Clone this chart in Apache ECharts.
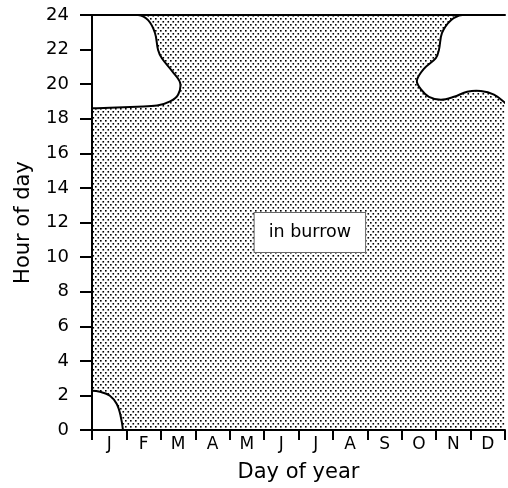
<!DOCTYPE html>
<html>
<head>
<meta charset="utf-8">
<script src="https://cdn.jsdelivr.net/npm/echarts@6/dist/echarts.min.js"></script>
<style>
  html, body { margin: 0; padding: 0; background: #fff; }
  #chart { width: 508px; height: 488px; }
</style>
</head>
<body>
<div id="chart"></div>
<script>
// axis ranges
const monthRange = [0, 12]
const hourRange = [0, 24]
const months = ['J', 'F', 'M', 'A', 'M', 'J', 'J', 'A', 'S', 'O', 'N', 'D']

// outlines of the "out of burrow" regions, [month, hour]
// points past the plot edges only keep the corners sharp (clipped)
const topLeftBlob = [
    [-2, 18.6], [0, 18.6], [0.52, 18.64], [1.31, 18.7], [1.89, 18.76], [2.27, 19.0],
    [2.5, 19.39], [2.56, 20.08], [2.35, 20.7], [2.03, 21.5], [1.92, 21.98],
    [1.83, 22.96], [1.63, 23.7], [1.34, 24], [0.5, 24], [-2, 24]
]
const topRightBlob = [
    [10.76, 24], [10.43, 23.7], [10.17, 22.96], [10.08, 21.98], [9.99, 21.5],
    [9.65, 20.9], [9.44, 20.2], [9.56, 19.7], [9.79, 19.27], [10.14, 19.1],
    [10.52, 19.27], [10.9, 19.56], [11.3, 19.6], [11.68, 19.39], [12, 18.92],
    [12.4, 18.3], [14, 18.3], [14, 24], [11.6, 24]
]
const bottomLeftBlob = [
    [-2, 2.27], [0, 2.27], [0.23, 2.21], [0.52, 1.98], [0.72, 1.5], [0.83, 0.83],
    [0.9, 0], [0.93, -1], [-2, -1]
]
const labelPos = [6.33, 11.42]

const FONT = 'DejaVu Sans'

// stipple tile
const tile = document.createElement('canvas')
tile.width = 5
tile.height = 6
const tctx = tile.getContext('2d')
tctx.fillStyle = '#000'
tctx.fillRect(0, 0, 1.6, 1.6)
tctx.fillRect(2.5, 3, 1.6, 1.6)
const stipple = { image: tile, repeat: 'repeat' }

const blobSeries = (points) => ({
    type: 'custom',
    xAxisIndex: 0,
    yAxisIndex: 0,
    clip: true,
    z: 3,
    silent: true,
    data: points,
    renderItem: (params, api) => {
        if (params.dataIndex !== 0) return
        return {
            type: 'polygon',
            shape: { points: points.map((p) => api.coord(p)), smooth: 0.35 },
            style: { fill: '#fff', stroke: '#000', lineWidth: 2 },
        }
    },
})

const chart = echarts.init(document.getElementById('chart'))
const option = {
    animation: false,
    grid: { left: 92, right: 3, top: 15, bottom: 57 },
    xAxis: [
        {
            type: 'value',
            min: monthRange[0],
            max: monthRange[1],
            interval: 1,
            z: 10,
            name: 'Day of year',
            nameLocation: 'middle',
            nameGap: 32,
            nameTextStyle: { fontFamily: FONT, fontSize: 21, color: '#000' },
            axisLine: { lineStyle: { color: '#000', width: 2 } },
            axisTick: { length: 10, lineStyle: { color: '#000', width: 2 } },
            axisLabel: { show: false },
            splitLine: { show: false },
        },
        {
            type: 'category',
            data: months,
            position: 'bottom',
            boundaryGap: true,
            axisLine: { show: false },
            axisTick: { show: false },
            axisLabel: { margin: 6, fontFamily: FONT, fontSize: 17, color: '#000' },
        },
        {
            type: 'value',
            position: 'top',
            min: monthRange[0],
            max: monthRange[1],
            z: 10,
            axisLine: { show: true, lineStyle: { color: '#000', width: 2 } },
            axisTick: { show: false },
            axisLabel: { show: false },
            splitLine: { show: false },
        },
    ],
    yAxis: [
        {
            type: 'value',
            min: hourRange[0],
            max: hourRange[1],
            interval: 2,
            z: 10,
            name: 'Hour of day',
            nameLocation: 'middle',
            nameGap: 58,
            nameTextStyle: { fontFamily: FONT, fontSize: 21, color: '#000' },
            axisLine: { show: true, lineStyle: { color: '#000', width: 2 } },
            axisTick: { show: true, length: 12, lineStyle: { color: '#000', width: 2 } },
            axisLabel: { margin: 23, fontFamily: FONT, fontSize: 18, color: '#000' },
            splitLine: { show: false },
        },
        {
            type: 'value',
            position: 'right',
            min: hourRange[0],
            max: hourRange[1],
            interval: 2,
            z: 10,
            axisLine: { show: true, lineStyle: { color: '#000', width: 2 } },
            axisTick: { show: true, inside: true, length: 4, lineStyle: { color: '#000', width: 1.5 } },
            axisLabel: { show: false },
            splitLine: { show: false },
        },
    ],
    series: [
        {
            type: 'custom',
            xAxisIndex: 0,
            yAxisIndex: 0,
            z: 1,
            silent: true,
            data: [[monthRange[0], hourRange[0]], [monthRange[1], hourRange[1]]],
            renderItem: (params, api) => {
                if (params.dataIndex !== 0) return
                const p0 = api.coord([monthRange[0], hourRange[1]])
                const p1 = api.coord([monthRange[1], hourRange[0]])
                return {
                    type: 'rect',
                    shape: { x: p0[0], y: p0[1], width: p1[0] - p0[0], height: p1[1] - p0[1] },
                    style: { fill: stipple },
                }
            },
        },
        blobSeries(topLeftBlob),
        blobSeries(topRightBlob),
        blobSeries(bottomLeftBlob),
        {
            type: 'scatter',
            xAxisIndex: 0,
            yAxisIndex: 0,
            z: 5,
            symbolSize: 0,
            silent: true,
            itemStyle: { opacity: 1 },
            data: [labelPos],
            label: {
                show: true,
                position: 'inside',
                formatter: 'in burrow',
                fontFamily: FONT,
                fontSize: 17.5,
                lineHeight: 19,
                color: '#000',
                opacity: 1,
                backgroundColor: '#fff',
                borderColor: '#666',
                borderWidth: 1,
                padding: [10, 14],
            },
        },
    ],
}
chart.setOption(option)
</script>
</body>
</html>
